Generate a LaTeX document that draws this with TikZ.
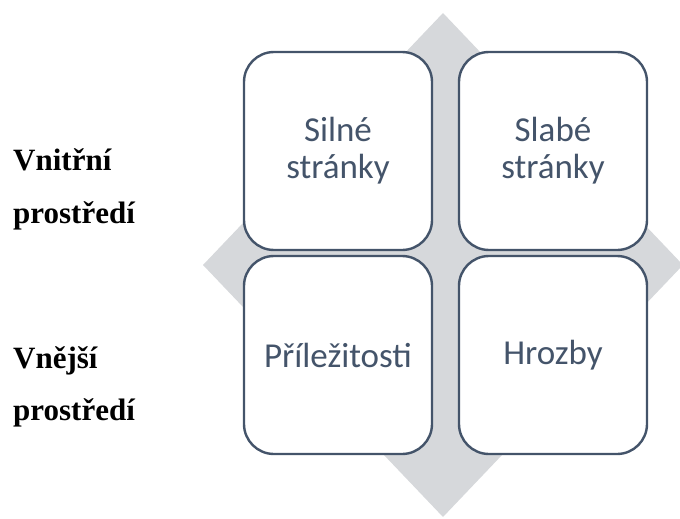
\documentclass[tikz,border=0pt]{standalone}
\usepackage{fontspec}
\setmainfont{Liberation Serif}
\newfontfamily\boxfont{Carlito}
\usetikzlibrary{positioning}
\definecolor{slate}{RGB}{68,84,106}
\definecolor{diagray}{RGB}{214,216,219}

\begin{document}
\begin{tikzpicture}[x=1pt,y=-1pt,node distance=215pt]
            \tikzstyle{swot}=[draw=slate,line width=2.4pt,fill=white,rounded corners=30pt,
                minimum width=188pt,minimum height=198pt,align=center,text=slate,
                font=\boxfont\fontsize{35}{37}\selectfont]
            \tikzstyle{side}=[anchor=base west,inner sep=0pt,font=\bfseries\fontsize{31}{34}\selectfont]
            \useasboundingbox (0,0) rectangle (680,519);
            \fill[diagray] (443,13) -- (683,265) -- (443,517) -- (203,265) -- cycle;
            \node[swot] (strong) at (338,151) {Silné\\stránky};
            \node[swot] (weak)   [right of=strong] {Slabé\\stránky};
            \node[swot] (opport) [below of=strong, node distance=204pt] {Příležitosti};
            \node[swot] (threat) [below of=weak, node distance=204pt] {Hrozby};
            \node[side] (inner1) at (13,170) {Vnitřní};
            \node[side] (inner2) at (13,223) {prostředí};
            \node[side] (outer1) at (13,368) {Vnější};
            \node[side] (outer2) at (13,420) {prostředí};
        \end{tikzpicture}
\end{document}
